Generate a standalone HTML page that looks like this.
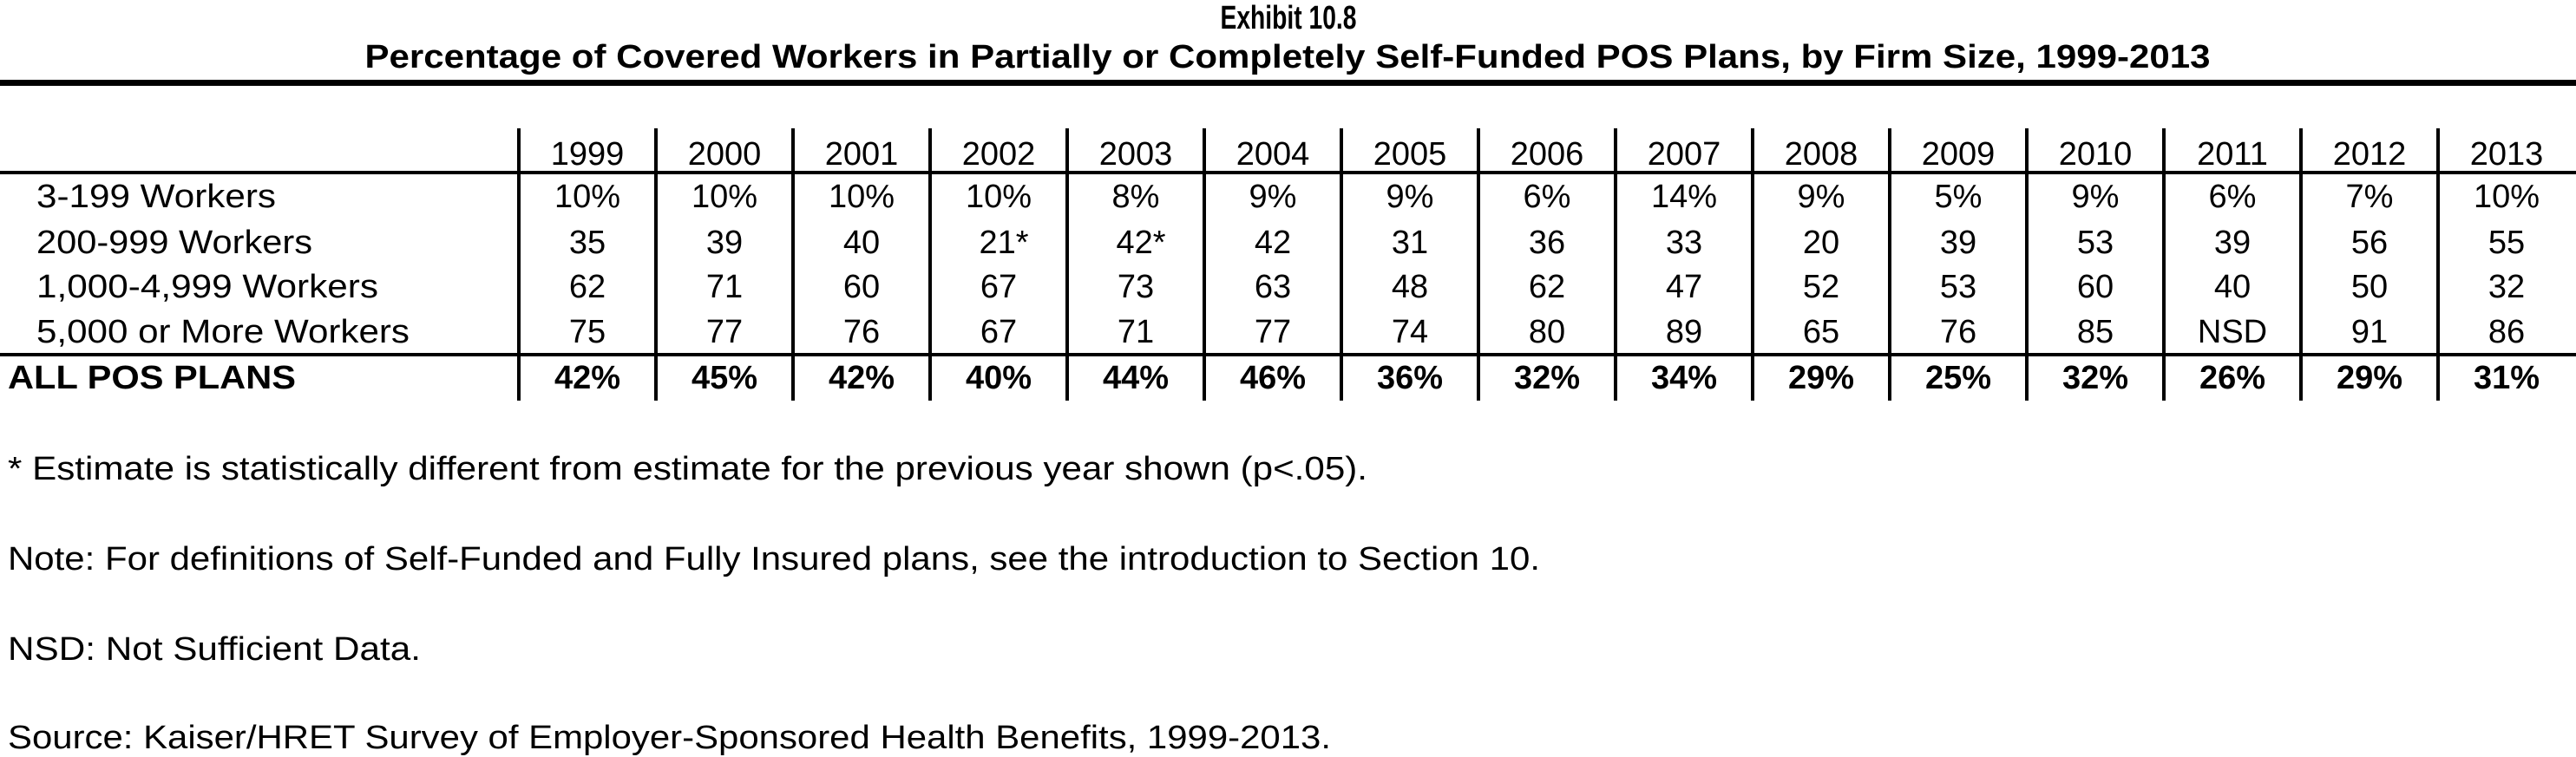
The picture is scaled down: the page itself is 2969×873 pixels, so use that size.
<!DOCTYPE html>
<html><head><meta charset="utf-8">
<style>
html,body{margin:0;padding:0;background:#fff;}
svg{display:block;font-family:"Liberation Sans",Arial,sans-serif;}
</style></head>
<body>
<svg id="chart" width="2969" height="873" viewBox="0 0 2969 873" xmlns="http://www.w3.org/2000/svg">
<text x="1485" y="33" text-anchor="middle" font-weight="bold" font-size="38" textLength="157" lengthAdjust="spacingAndGlyphs">Exhibit 10.8</text>
<text x="1484" y="78" text-anchor="middle" font-weight="bold" font-size="38" textLength="2127" lengthAdjust="spacingAndGlyphs">Percentage of Covered Workers in Partially or Completely Self-Funded POS Plans, by Firm Size, 1999-2013</text>
<rect x="0" y="92" width="2969" height="7" fill="#000"/>
<g id="table"></g>
<text x="9" y="553" font-size="38" textLength="1567" lengthAdjust="spacingAndGlyphs">* Estimate is statistically different from estimate for the previous year shown (p&lt;.05).</text>
<text x="9" y="657" font-size="38" textLength="1766" lengthAdjust="spacingAndGlyphs">Note: For definitions of Self-Funded and Fully Insured plans, see the introduction to Section 10.</text>
<text x="9" y="761" font-size="38" textLength="476" lengthAdjust="spacingAndGlyphs">NSD: Not Sufficient Data.</text>
<text x="9" y="863" font-size="38" textLength="1525" lengthAdjust="spacingAndGlyphs">Source: Kaiser/HRET Survey of Employer-Sponsored Health Benefits, 1999-2013.</text>
</svg>
<script>
const years = ["1999","2000","2001","2002","2003","2004","2005","2006","2007","2008","2009","2010","2011","2012","2013"];
const rowLabels = ["3-199 Workers","200-999 Workers","1,000-4,999 Workers","5,000 or More Workers","ALL POS PLANS"];
const small = ["10%","10%","10%","10%","8%","9%","9%","6%","14%","9%","5%","9%","6%","7%","10%"];
const mid = ["35","39","40","21*","42*","42","31","36","33","20","39","53","39","56","55"];
const large = ["62","71","60","67","73","63","48","62","47","52","53","60","40","50","32"];
const jumbo = ["75","77","76","67","71","77","74","80","89","65","76","85","NSD","91","86"];
const allPlans = ["42%","45%","42%","40%","44%","46%","36%","32%","34%","29%","25%","32%","26%","29%","31%"];

const NS = "http://www.w3.org/2000/svg";
const g = document.getElementById("table");
const colX = i => 598 + 158 * i;
const colC = i => 598 + 158 * i + 79;
const rowY = [225, 278, 329, 381, 434];
const series = [small, mid, large, jumbo, allPlans];
const labelLens = [276, 318, 394, 430, 332];

function txt(x, y, s, anchor, bold, len) {
  const t = document.createElementNS(NS, "text");
  t.setAttribute("x", x); t.setAttribute("y", y);
  t.setAttribute("font-size", "38");
  t.setAttribute("text-anchor", anchor);
  if (bold) t.setAttribute("font-weight", "bold");
  if (len) { t.setAttribute("textLength", len); t.setAttribute("lengthAdjust", "spacingAndGlyphs"); }
  t.textContent = s;
  g.appendChild(t);
  return t;
}
function rect(x, y, w, h) {
  const r = document.createElementNS(NS, "rect");
  r.setAttribute("x", x); r.setAttribute("y", y);
  r.setAttribute("width", w); r.setAttribute("height", h);
  r.setAttribute("fill", "#000");
  g.appendChild(r);
  return r;
}
let r1 = rect(0, 197, 2969, 4);


let r2 = rect(0, 407, 2969, 4);


years.forEach((y, i) => {
  const v = rect(colX(i) - 2, 148, 4, 314);
  
  
  const h = txt(colC(i), 190, y, "middle", false);
  
  
});
rowLabels.forEach((lab, r) => {
  const bold = r === 4;
  const l = txt(bold ? 9 : 42, rowY[r] + 14, lab, "start", bold, labelLens[r]);
  
  
  series[r].forEach((val, i) => {
    const c = txt(colC(i) + (val.endsWith("*") ? 6 : 0), rowY[r] + 14, val, "middle", bold);
    
    
  });
});
</script>
</body></html>
